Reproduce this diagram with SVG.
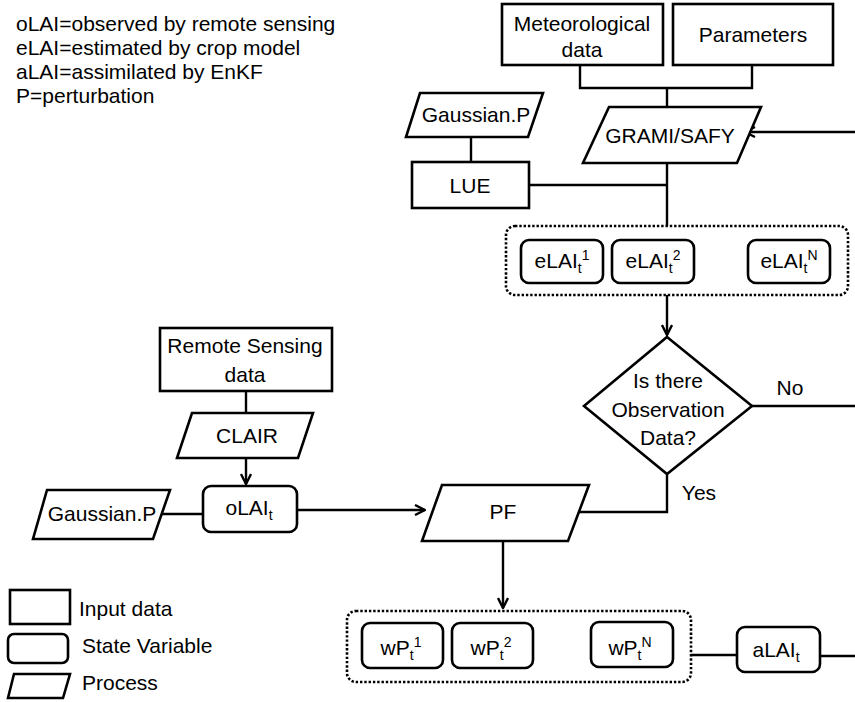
<svg xmlns="http://www.w3.org/2000/svg" width="855" height="702" viewBox="0 0 855 702">
<style>
text{font-family:"Liberation Sans",Arial,sans-serif;font-size:21px;fill:#000}
.c{text-anchor:middle}
.box{fill:#fff;stroke:#000;stroke-width:2.6}
.dot{fill:none;stroke:#000;stroke-width:2.6;stroke-dasharray:2.4 1.9}
.ln{fill:none;stroke:#000;stroke-width:2.4}
.sm{font-size:14px}
</style>
<defs>
<marker id="arr" viewBox="0 0 12 12" refX="11" refY="6" markerWidth="12" markerHeight="12" markerUnits="userSpaceOnUse" orient="auto">
<path d="M1,1 L11,6 L1,11" fill="none" stroke="#000" stroke-width="2.4"/>
</marker>
</defs>
<rect width="855" height="702" fill="#fff"/>

<g id="legend-text">
<text x="16" y="31">oLAI=observed by remote sensing</text>
<text x="16" y="55">eLAI=estimated by crop model</text>
<text x="16" y="79">aLAI=assimilated by EnKF</text>
<text x="16" y="103">P=perturbation</text>
</g>

<g id="connectors">
<polyline class="ln" points="580,65 580,88 752,88 752,65"/>
<line class="ln" x1="667" y1="88" x2="667" y2="107"/>
<line class="ln" x1="667" y1="163" x2="667" y2="226"/>
<line class="ln" x1="471" y1="137" x2="471" y2="162"/>
<line class="ln" x1="529" y1="185" x2="667" y2="185"/>
<line class="ln" x1="855" y1="132" x2="745" y2="132" marker-end="url(#arr)"/>
<line class="ln" x1="667" y1="295" x2="667" y2="335" marker-end="url(#arr)"/>
<line class="ln" x1="752" y1="406" x2="855" y2="406"/>
<polyline class="ln" points="667,474 667,512 579,512"/>
<line class="ln" x1="246" y1="391" x2="246" y2="413"/>
<line class="ln" x1="246" y1="458" x2="246" y2="484" marker-end="url(#arr)"/>
<line class="ln" x1="162" y1="514" x2="203" y2="514"/>
<line class="ln" x1="297" y1="510" x2="425" y2="510" marker-end="url(#arr)"/>
<line class="ln" x1="503" y1="541" x2="503" y2="608" marker-end="url(#arr)"/>
<line class="ln" x1="691" y1="655" x2="737" y2="655"/>
<line class="ln" x1="820" y1="656" x2="855" y2="656"/>
</g>

<g id="meteo">
<rect class="box" x="502" y="4" width="161" height="61"/>
<text class="c" x="582" y="31">Meteorological</text>
<text class="c" x="582" y="57">data</text>
</g>
<g id="params">
<rect class="box" x="673" y="4" width="160" height="61"/>
<text class="c" x="753" y="42">Parameters</text>
</g>
<g id="grami">
<polygon class="box" points="609,107 761,107 737,163 583,163"/>
<text class="c" x="670" y="143">GRAMI/SAFY</text>
</g>
<g id="gauss-top">
<polygon class="box" points="420,93 543,93 528,137 406,137"/>
<text class="c" x="476" y="122">Gaussian.P</text>
</g>
<g id="lue">
<rect class="box" x="412" y="162" width="117" height="46"/>
<text class="c" x="470" y="193">LUE</text>
</g>

<g id="elai-group">
<rect class="dot" x="506" y="226" width="342" height="69" rx="9"/>
<g id="elai1">
<rect class="box" x="521" y="240" width="82" height="43" rx="8"/>
<text class="c" x="562" y="268">eLAI<tspan class="sm" dy="5">t</tspan><tspan class="sm" dy="-13">1</tspan></text>
</g>
<g id="elai2">
<rect class="box" x="612" y="240" width="82" height="43" rx="8"/>
<text class="c" x="653" y="268">eLAI<tspan class="sm" dy="5">t</tspan><tspan class="sm" dy="-13">2</tspan></text>
</g>
<g id="elaiN">
<rect class="box" x="748" y="240" width="82" height="43" rx="8"/>
<text class="c" x="789" y="268">eLAI<tspan class="sm" dy="5">t</tspan><tspan class="sm" dy="-13">N</tspan></text>
</g>
</g>

<g id="decision">
<polygon class="box" points="667,337 752,406 667,474 584,406"/>
<text class="c" x="668" y="388">Is there</text>
<text class="c" x="668" y="417">Observation</text>
<text class="c" x="668" y="445">Data?</text>
</g>
<text x="790" y="395" class="c">No</text>
<text x="699" y="500" class="c">Yes</text>

<g id="rs">
<rect class="box" x="160" y="328" width="172" height="63"/>
<text class="c" x="245" y="353">Remote Sensing</text>
<text class="c" x="245" y="382">data</text>
</g>
<g id="clair">
<polygon class="box" points="192,413 313,413 298,458 177,458"/>
<text class="c" x="247" y="443">CLAIR</text>
</g>
<g id="olai">
<rect class="box" x="203" y="486" width="94" height="46" rx="8"/>
<text class="c" x="249" y="515">oLAI<tspan class="sm" dy="5">t</tspan></text>
</g>
<g id="gauss-left">
<polygon class="box" points="47,490 170,490 153,539 33,539"/>
<text class="c" x="102" y="521">Gaussian.P</text>
</g>
<g id="pf">
<polygon class="box" points="442,485 589,485 568,541 422,541"/>
<text class="c" x="503" y="519">PF</text>
</g>

<g id="wp-group">
<rect class="dot" x="347" y="611" width="344" height="71" rx="9"/>
<g id="wp1">
<rect class="box" x="362" y="623" width="81" height="45" rx="8"/>
<text class="c" x="401" y="655">wP<tspan class="sm" dy="5">t</tspan><tspan class="sm" dy="-13">1</tspan></text>
</g>
<g id="wp2">
<rect class="box" x="452" y="623" width="81" height="45" rx="8"/>
<text class="c" x="491" y="655">wP<tspan class="sm" dy="5">t</tspan><tspan class="sm" dy="-13">2</tspan></text>
</g>
<g id="wpN">
<rect class="box" x="591" y="622" width="82" height="45" rx="8"/>
<text class="c" x="630" y="655">wP<tspan class="sm" dy="5">t</tspan><tspan class="sm" dy="-13">N</tspan></text>
</g>
</g>
<g id="alai">
<rect class="box" x="737" y="627" width="83" height="45" rx="8"/>
<text class="c" x="776" y="657">aLAI<tspan class="sm" dy="5">t</tspan></text>
</g>

<g id="legend">
<rect class="box" x="10" y="590" width="60" height="34"/>
<text x="79" y="616">Input data</text>
<rect class="box" x="8" y="634" width="60" height="29" rx="6"/>
<text x="82" y="653">State Variable</text>
<polygon class="box" points="14,674 70,674 63,698 8,698"/>
<text x="82" y="690">Process</text>
</g>
</svg>
